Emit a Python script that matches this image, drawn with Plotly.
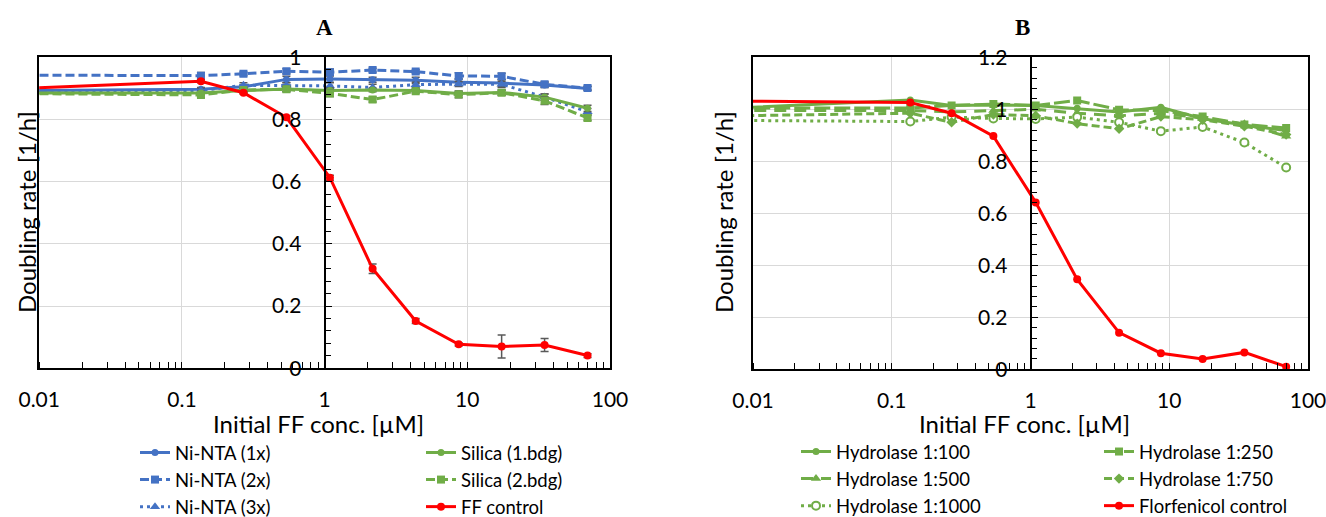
import plotly.graph_objects as go

# ---------------- data ----------------
# first concentration (0.001) lies left of the visible axis range; line is clipped at 0.01
conc = [0.001, 0.136, 0.27, 0.54, 1.09, 2.17, 4.35, 8.7, 17.4, 34.8, 69.6]

# Panel A
ni_nta_1x = [0.890, 0.897, 0.905, 0.929, 0.930, 0.928, 0.926, 0.920, 0.917, 0.911, 0.900]
ni_nta_2x = [0.944, 0.941, 0.947, 0.955, 0.952, 0.959, 0.954, 0.940, 0.939, 0.913, 0.901]
ni_nta_3x = [0.893, 0.893, 0.910, 0.910, 0.908, 0.903, 0.912, 0.914, 0.913, 0.872, 0.825]
silica_1 = [0.885, 0.885, 0.893, 0.898, 0.893, 0.895, 0.893, 0.884, 0.887, 0.872, 0.836]
silica_2 = [0.886, 0.879, 0.895, 0.897, 0.884, 0.864, 0.891, 0.880, 0.886, 0.860, 0.805]
ff_control = [0.884, 0.923, 0.886, 0.807, 0.613, 0.320, 0.152, 0.077, 0.070, 0.075, 0.041]

err_1x = [0, 0.006, 0.006, 0.010, 0.010, 0.008, 0.010, 0.010, 0.012, 0.008, 0.006]
err_2x = [0, 0.010, 0.006, 0.008, 0.010, 0.006, 0.006, 0.010, 0.010, 0.008, 0.006]
err_3x = [0, 0.008, 0.008, 0.008, 0.010, 0.010, 0.008, 0.008, 0.010, 0.010, 0.010]
err_s1 = [0, 0.006, 0.006, 0.008, 0.008, 0.006, 0.006, 0.008, 0.008, 0.010, 0.010]
err_s2 = [0, 0.008, 0.006, 0.008, 0.010, 0.008, 0.006, 0.010, 0.008, 0.012, 0.008]
err_ff = [0, 0.005, 0.004, 0.005, 0.008, 0.015, 0.008, 0.005, 0.037, 0.021, 0.006]

# Panel B
hyd_100 = [0.983, 1.036, 1.015, 1.017, 1.015, 1.004, 0.990, 1.008, 0.964, 0.940, 0.918]
hyd_250 = [1.005, 1.005, 1.015, 1.020, 1.015, 1.034, 0.998, 0.995, 0.972, 0.942, 0.928]
hyd_500 = [0.995, 0.995, 0.990, 0.995, 1.000, 0.985, 0.975, 0.985, 0.966, 0.944, 0.896]
hyd_750 = [0.968, 0.985, 0.950, 0.980, 0.975, 0.945, 0.925, 0.972, 0.960, 0.935, 0.903]
hyd_1000 = [0.960, 0.953, 0.970, 0.965, 0.963, 0.970, 0.950, 0.916, 0.932, 0.872, 0.776]
flor_control = [1.036, 1.026, 0.985, 0.897, 0.642, 0.346, 0.141, 0.062, 0.040, 0.065, 0.010]

x_tickvals = [0.01, 0.1, 1, 10, 100]
x_ticktext = ["0.01", "0.1", "1", "10", "100"]

BLUE = "#4472C4"
GREEN = "#70AD47"
RED = "#FF0000"
FONT = "Lato"
W, H = 1326, 517

fig = go.Figure()


def add(y, name, color, dash, symbol, size, xa, ya, legend, err=None, open_marker=False):
    kw = {}
    if err is not None:
        kw["error_y"] = dict(type="data", array=err, visible=True, color="#595959",
                             thickness=1.5, width=4)
    fig.add_trace(go.Scatter(
        x=conc, y=y, name=name, mode="lines+markers",
        line=dict(color=color, width=3, dash=dash),
        marker=dict(symbol=symbol, size=size, color="white" if open_marker else color,
                    line=dict(color=color, width=2 if open_marker else 0)),
        xaxis=xa, yaxis=ya, legend=legend, **kw))


add(ni_nta_1x, "Ni-NTA (1x)", BLUE, "solid", "circle", 7, "x", "y", "legend", err_1x)
add(ni_nta_2x, "Ni-NTA (2x)", BLUE, "9px,4px", "square", 8, "x", "y", "legend", err_2x)
add(ni_nta_3x, "Ni-NTA (3x)", BLUE, "3px,4px", "triangle-up", 9, "x", "y", "legend", err_3x)
add(silica_1, "Silica (1.bdg)", GREEN, "solid", "circle", 7, "x", "y", "legend2", err_s1)
add(silica_2, "Silica (2.bdg)", GREEN, "9px,4px", "square", 8, "x", "y", "legend2", err_s2)
add(ff_control, "FF control", RED, "solid", "circle", 8, "x", "y3", "legend2", err_ff)

add(hyd_100, "Hydrolase 1:100", GREEN, "solid", "circle", 7, "x2", "y2", "legend3")
add(hyd_500, "Hydrolase 1:500", GREEN, "12px,8px", "triangle-up", 9, "x2", "y2", "legend3")
add(hyd_1000, "Hydrolase 1:1000", GREEN, "3px,4px", "circle", 8, "x2", "y2", "legend3", open_marker=True)
add(hyd_250, "Hydrolase 1:250", GREEN, "16px,4px", "square", 8, "x2", "y2", "legend4")
add(hyd_750, "Hydrolase 1:750", GREEN, "8px,4px", "diamond", 8, "x2", "y2", "legend4")
add(flor_control, "Florfenicol control", RED, "solid", "circle", 8, "x2", "y4", "legend4")

# geometry (pixels)
A_L, A_R, A_MID = 39.2, 610.0, 324.6
B_L, B_R, B_MID = 753.0, 1308.0, 1030.6
TOP, BOT_A, BOT_B = 57.3, 368.3, 369.3

grid = "#D9D9D9"
tickfont = dict(family=FONT, size=21, color="black")


def xax(l, r, anchor):
    return dict(domain=[l / W, r / W], anchor=anchor, type="log", range=[-2, 2],
                tickmode="array", tickvals=x_tickvals, ticktext=x_ticktext,
                showgrid=True, gridcolor=grid, gridwidth=1,
                showline=True, linecolor="black", linewidth=2, mirror=True,
                ticks="", tickfont=tickfont, ticklabelstandoff=11,
                ticklabeloverflow="allow",
                minor=dict(dtick="D1", ticks="inside", ticklen=6, tickcolor="black",
                           tickwidth=1, showgrid=False),
                zeroline=False)


def yax_main(bot, anchor, top_val):
    return dict(domain=[(H - bot) / H, (H - TOP) / H], anchor=anchor,
                range=[0, top_val], dtick=0.2, showgrid=True, gridcolor=grid,
                showline=True, linecolor="black", linewidth=2, mirror=True,
                showticklabels=False, ticks="", zeroline=False)


def yax_mid(over, pos, top_val, minor_step):
    return dict(overlaying=over, anchor="free", position=pos / W, range=[0, top_val],
                dtick=0.2, showgrid=False, showline=True, linecolor="black", linewidth=2,
                ticks="inside", ticklen=6, tickcolor="black", tickwidth=1,
                tickfont=tickfont, ticklabelstandoff=18, zeroline=False,
                ticklabeloverflow="allow",
                minor=dict(dtick=minor_step, ticks="inside", ticklen=5,
                           tickcolor="black", showgrid=False))


leg_font = dict(family=FONT, size=18.5, color="black")


def leg(xpx, ypx):
    return dict(x=xpx / W, y=1 - ypx / H, xanchor="left", yanchor="top",
                orientation="v", font=leg_font, bgcolor="rgba(0,0,0,0)",
                itemwidth=30, tracegroupgap=0)


def note(text, xpx, ypx, size, family=FONT, angle=0):
    return dict(text=text, x=xpx / W, y=1 - ypx / H, xref="paper", yref="paper",
                xanchor="center", yanchor="middle", showarrow=False, textangle=angle,
                font=dict(family=family, size=size, color="black"))


fig.update_layout(
    width=W, height=H, margin=dict(l=0, r=0, t=0, b=0, autoexpand=False),
    paper_bgcolor="white", plot_bgcolor="white",
    font=dict(family=FONT, color="black"),
    xaxis=xax(A_L, A_R, "y"),
    yaxis=yax_main(BOT_A, "x", 1.0),
    xaxis2=xax(B_L, B_R, "y2"),
    yaxis2=yax_main(BOT_B, "x2", 1.2),
    yaxis3=yax_mid("y", A_MID, 1.0, 0.04),
    yaxis4=yax_mid("y2", B_MID, 1.2, 0.04),
    legend=leg(135, 434),
    legend2=leg(421, 434),
    legend3=leg(796, 433),
    legend4=leg(1099, 433),
    annotations=[
        note("<b>A</b>", A_MID, 28, 23, "Liberation Serif"),
        note("<b>B</b>", 1022, 28, 23, "Liberation Serif"),
        note("Doubling rate [1/h]", 26, 212, 24, angle=-90),
        note("Doubling rate [1/h]", 723, 212, 24, angle=-90),
        note("Initial FF conc. [µM]", 318, 423, 24),
        note("Initial FF conc. [µM]", 1024, 423, 24),
    ],
)

fig.write_html("out.html")
